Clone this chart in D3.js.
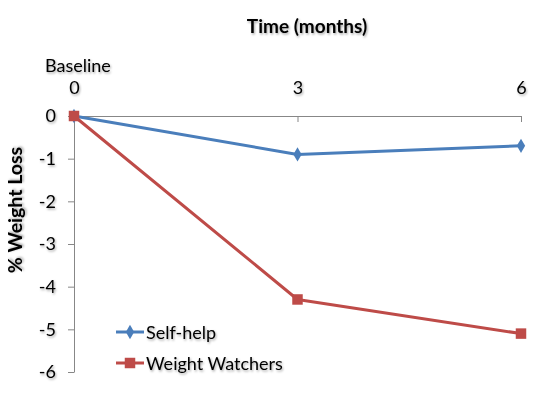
<!DOCTYPE html>
<html>
<head>
<meta charset="utf-8">
<script src="https://cdn.jsdelivr.net/npm/d3@7"></script>
<style>
  body { margin: 0; background: #fff; }
  text { font-family: Lato, "Open Sans", sans-serif; fill: #000; }
</style>
</head>
<body>
<div id="chart"></div>
<script>
// data
const months = [0, 3, 6];
const xTickLabels = ["0", "3", "6"];
const yTicks = [0, -1, -2, -3, -4, -5, -6];
const selfHelp = [0, -0.9, -0.7];
const weightWatchers = [0, -4.3, -5.1];
const seriesNames = ["Self-help", "Weight Watchers"];

const w = 550;
const h = 400;

const colors = ["#4a7ebb", "#be4b48"];

const svg = d3.select("#chart")
  .append("svg")
  .attr("width", w)
  .attr("height", h);

// soft shadow like the office text effect
const defs = svg.append("defs");
defs.append("filter")
  .attr("id", "shadow")
  .attr("x", "-10%").attr("y", "-30%")
  .attr("width", "130%").attr("height", "170%")
  .append("feDropShadow")
  .attr("dx", 1).attr("dy", 1.5)
  .attr("stdDeviation", 1.2)
  .attr("flood-color", "#000")
  .attr("flood-opacity", 0.35);

// scales
const xScale = d3.scaleLinear().domain([0, 6]).range([74, 521]);
const yScale = d3.scaleLinear().domain([-6, 0]).range([372, 116]);

// x axis on top, ticks pointing down
const xAxis = d3.axisTop(xScale)
  .tickValues(months)
  .tickFormat((d, i) => xTickLabels[i])
  .tickSizeInner(-6)
  .tickSizeOuter(0)
  .tickPadding(22);

const gx = svg.append("g")
  .attr("transform", `translate(0,${yScale(0)})`)
  .call(xAxis);
gx.selectAll("text").style("font-size", "18px").attr("filter", "url(#shadow)");

const yAxis = d3.axisLeft(yScale)
  .tickValues(yTicks)
  .tickFormat(d => String(d))
  .tickSizeInner(6)
  .tickSizeOuter(0)
  .tickPadding(12);

const gy = svg.append("g")
  .attr("transform", `translate(${xScale(0)},0)`)
  .call(yAxis);
gy.selectAll("text").style("font-size", "18px").attr("filter", "url(#shadow)");

svg.selectAll(".domain, .tick line").attr("stroke", "#878787");
svg.selectAll(".tick text").attr("fill", "#000");

// titles
svg.append("text")
  .attr("x", 307)
  .attr("y", 33)
  .attr("text-anchor", "middle")
  .style("font-size", "19px")
  .style("font-weight", "bold")
  .attr("filter", "url(#shadow)")
  .text("Time (months)");

svg.append("text")
  .attr("x", 45)
  .attr("y", 72)
  .style("font-size", "18px")
  .attr("filter", "url(#shadow)")
  .text("Baseline");

svg.append("text")
  .attr("transform", "translate(22,210) rotate(-90)")
  .attr("text-anchor", "middle")
  .style("font-size", "19.5px")
  .style("font-weight", "bold")
  .attr("filter", "url(#shadow)")
  .text("% Weight Loss");

// lines
const line = d3.line()
  .x((d, i) => xScale(months[i]))
  .y(d => yScale(d));

const allSeries = [selfHelp, weightWatchers];
const shapes = [d3.symbolDiamond, d3.symbolSquare];
const shapeSizes = [60, 110];

allSeries.forEach((vals, s) => {
  svg.append("path")
    .datum(vals)
    .attr("d", line)
    .attr("fill", "none")
    .attr("stroke", colors[s])
    .attr("stroke-width", 3)
    .attr("stroke-linejoin", "round");
});

allSeries.forEach((vals, s) => {
  svg.selectAll(".pt" + s)
    .data(vals)
    .enter()
    .append("path")
    .attr("class", "pt" + s)
    .attr("d", d3.symbol().type(shapes[s]).size(shapeSizes[s]))
    .attr("transform", (d, i) => `translate(${xScale(months[i])},${yScale(d)})`)
    .attr("fill", colors[s]);
});

// legend
const legend = svg.append("g")
  .selectAll("g")
  .data(seriesNames)
  .enter()
  .append("g")
  .attr("transform", (d, i) => `translate(116,${332 + i * 31})`);

legend.append("line")
  .attr("x1", 0).attr("x2", 28)
  .attr("stroke", (d, i) => colors[i])
  .attr("stroke-width", 3);

legend.append("path")
  .attr("d", (d, i) => d3.symbol().type(shapes[i]).size(shapeSizes[i])())
  .attr("transform", "translate(14,0)")
  .attr("fill", (d, i) => colors[i]);

legend.append("text")
  .attr("x", 30)
  .attr("y", 6.5)
  .style("font-size", "18px")
  .attr("filter", "url(#shadow)")
  .text(d => d);
</script>
</body>
</html>
